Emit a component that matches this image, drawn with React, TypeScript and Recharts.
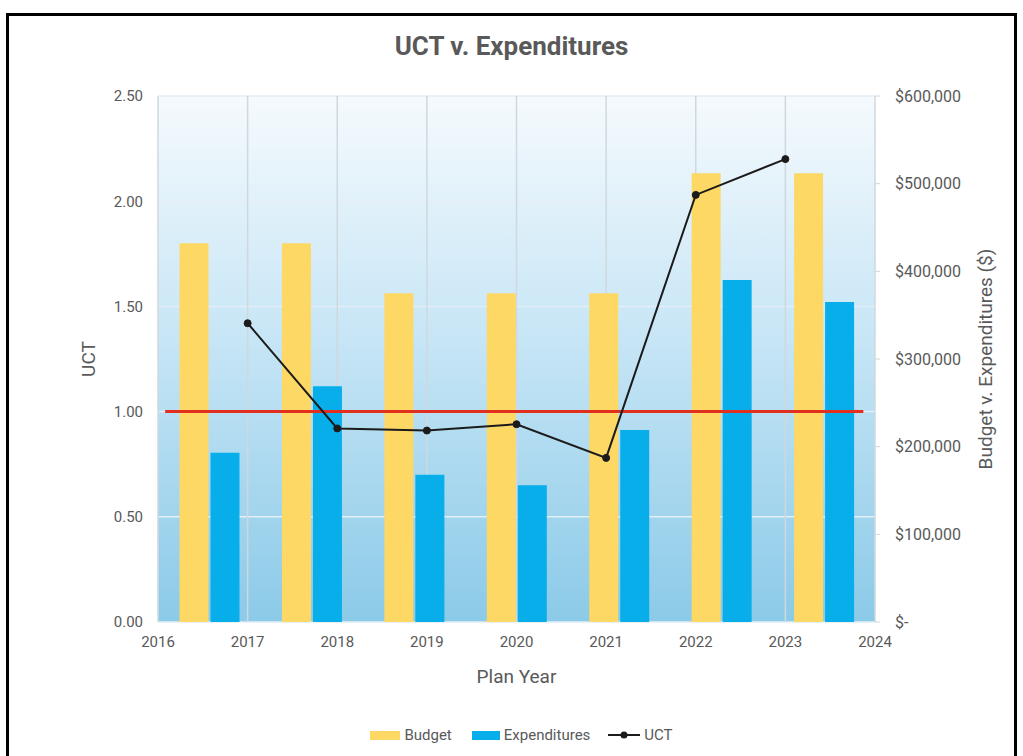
import React from 'react';
import {
  ComposedChart,
  Bar,
  Line,
  XAxis,
  YAxis,
  CartesianGrid,
  ReferenceLine,
} from 'recharts';

const categories = ['2017', '2018', '2019', '2020', '2021', '2022', '2023'];
const planYears = [2017, 2018, 2019, 2020, 2021, 2022, 2023];
const budget = [432000, 432000, 375000, 375000, 375000, 512000, 512000];
const expenditures = [193000, 269000, 168000, 156000, 219000, 390000, 365000];
const uct = [1.42, 0.92, 0.91, 0.94, 0.78, 2.03, 2.2];

const yearTicks = [2016, 2017, 2018, 2019, 2020, 2021, 2022, 2023, 2024];
const uctTicks = [0, 0.5, 1, 1.5, 2, 2.5];
const dollarTicks = [0, 100000, 200000, 300000, 400000, 500000, 600000];
const targetLine = [
  { x: 2016.08, y: 1 },
  { x: 2023.87, y: 1 },
];

const data = categories.map((cat, i) => ({
  cat,
  year: planYears[i],
  budget: budget[i],
  expenditures: expenditures[i],
  uct: uct[i],
}));

const FONT = 'Roboto, "Noto Sans", sans-serif';
const GREY = '#595959';
const YELLOW = '#fdd865';
const BLUE = '#08aeea';

const formatDollar = (v: number) => (v === 0 ? '$-' : '$' + v.toLocaleString('en-US'));

const UctLabel = (props: any) => {
  const vb = props.viewBox || { x: 98, y: 96, width: 60, height: 526 };
  const x = vb.x + vb.width - 70;
  const y = vb.y + vb.height / 2;
  return (
    <text
      x={x}
      y={y}
      transform={`rotate(-90, ${x}, ${y})`}
      textAnchor='middle'
      dominantBaseline='central'
      fill={GREY}
      fontSize={19}
      fontFamily={FONT}
    >
      UCT
    </text>
  );
};

const DollarLabel = (props: any) => {
  const vb = props.viewBox || { x: 875, y: 96, width: 120, height: 526 };
  const x = vb.x + 110;
  const y = vb.y + vb.height / 2;
  return (
    <text
      x={x}
      y={y}
      transform={`rotate(-90, ${x}, ${y})`}
      textAnchor='middle'
      dominantBaseline='central'
      fill={GREY}
      fontSize={19}
      fontFamily={FONT}
    >
      Budget v. Expenditures ($)
    </text>
  );
};

const YearLabel = (props: any) => {
  const vb = props.viewBox || { x: 158, y: 622, width: 717, height: 30 };
  return (
    <text
      x={vb.x + vb.width / 2}
      y={vb.y + 54}
      textAnchor='middle'
      dominantBaseline='central'
      fill={GREY}
      fontSize={19}
      fontFamily={FONT}
    >
      Plan Year
    </text>
  );
};

const legendText: React.CSSProperties = {
  fontSize: 15,
  color: GREY,
  marginLeft: 4,
};

const Legend = () => (
  <div
    style={{
      position: 'absolute',
      top: 726,
      left: 0,
      width: 1023,
      display: 'flex',
      justifyContent: 'center',
      alignItems: 'center',
      fontFamily: FONT,
      paddingLeft: 20,
      boxSizing: 'border-box',
    }}
  >
    <span style={{ width: 30, height: 9, background: YELLOW, display: 'inline-block' }} />
    <span style={legendText}>Budget</span>
    <span
      style={{ width: 28, height: 9, background: BLUE, display: 'inline-block', marginLeft: 20 }}
    />
    <span style={legendText}>Expenditures</span>
    <svg width={32} height={10} style={{ marginLeft: 18 }}>
      <line x1={0} y1={5} x2={32} y2={5} stroke='#1b1b1b' strokeWidth={2} />
      <circle cx={16} cy={5} r={3.5} fill='#1b1b1b' />
    </svg>
    <span style={legendText}>UCT</span>
  </div>
);

const App: React.FC = () => {
  return (
    <div
      style={{
        position: 'absolute',
        left: 0,
        top: 0,
        width: 1023,
        height: 756,
        overflow: 'hidden',
        background: '#ffffff',
      }}
    >
      <div
        style={{
          position: 'absolute',
          left: 6,
          top: 13,
          width: 1005,
          height: 760,
          border: '3px solid #000',
        }}
      />
      <div
        style={{
          position: 'absolute',
          top: 31,
          left: 0,
          width: 1023,
          textAlign: 'center',
          fontFamily: FONT,
          fontSize: 26,
          fontWeight: 700,
          color: GREY,
        }}
      >
        UCT v. Expenditures
      </div>
      <div style={{ position: 'absolute', left: 0, top: 0 }}>
        <ComposedChart
          width={1023}
          height={756}
          data={data}
          margin={{ top: 96, right: 28, left: 98, bottom: 104 }}
          barCategoryGap='21%'
          barGap={2}
        >
          <defs>
            <linearGradient id='plotBg' x1='0' y1='0' x2='0' y2='1'>
              <stop offset='0%' stopColor='#f5fafd' />
              <stop offset='45%' stopColor='#c8e6f6' />
              <stop offset='100%' stopColor='#8bcae8' />
            </linearGradient>
          </defs>
          <CartesianGrid
            xAxisId='yr'
            yAxisId='left'
            vertical={false}
            fill='url(#plotBg)'
            fillOpacity={1}
            stroke='#e3eef5'
            strokeWidth={1.5}
          />
          <CartesianGrid
            xAxisId='yr'
            yAxisId='left'
            horizontal={false}
            stroke='#cfd8de'
            strokeWidth={1.5}
          />
          <XAxis xAxisId='cat' dataKey='cat' type='category' hide height={0} />
          <XAxis
            xAxisId='yr'
            dataKey='year'
            type='number'
            domain={[2016, 2024]}
            ticks={yearTicks}
            allowDecimals={false}
            axisLine={false}
            tickLine={false}
            tickMargin={8}
            height={30}
            tick={{ fill: GREY, fontSize: 15, fontFamily: FONT }}
            label={YearLabel}
          />
          <YAxis
            yAxisId='left'
            orientation='left'
            domain={[0, 2.5]}
            ticks={uctTicks}
            tickFormatter={(v: number) => v.toFixed(2)}
            axisLine={false}
            tickLine={false}
            tickMargin={9}
            width={60}
            tick={{ fill: GREY, fontSize: 15, fontFamily: FONT }}
            label={UctLabel}
          />
          <YAxis
            yAxisId='right'
            orientation='right'
            domain={[0, 600000]}
            ticks={dollarTicks}
            tickFormatter={formatDollar}
            axisLine={false}
            tickLine={{ stroke: '#d0d6da' }}
            tickSize={5}
            tickMargin={15}
            width={120}
            tick={{ fill: GREY, fontSize: 16, fontFamily: FONT, textAnchor: 'start' }}
            label={DollarLabel}
          />
          <Bar
            xAxisId='cat'
            yAxisId='right'
            dataKey='budget'
            name='Budget'
            fill={YELLOW}
            isAnimationActive={false}
          />
          <Bar
            xAxisId='cat'
            yAxisId='right'
            dataKey='expenditures'
            name='Expenditures'
            fill={BLUE}
            isAnimationActive={false}
          />
          <ReferenceLine
            xAxisId='yr'
            yAxisId='left'
            segment={targetLine}
            stroke='#e2301f'
            strokeWidth={3}
          />
          <Line
            xAxisId='yr'
            yAxisId='left'
            dataKey='uct'
            name='UCT'
            type='linear'
            stroke='#1b1b1b'
            strokeWidth={2}
            dot={{ r: 3.5, fill: '#1b1b1b', stroke: '#1b1b1b', strokeWidth: 1 }}
            activeDot={false}
            isAnimationActive={false}
          />
        </ComposedChart>
      </div>
      <Legend />
    </div>
  );
};

export default App;
